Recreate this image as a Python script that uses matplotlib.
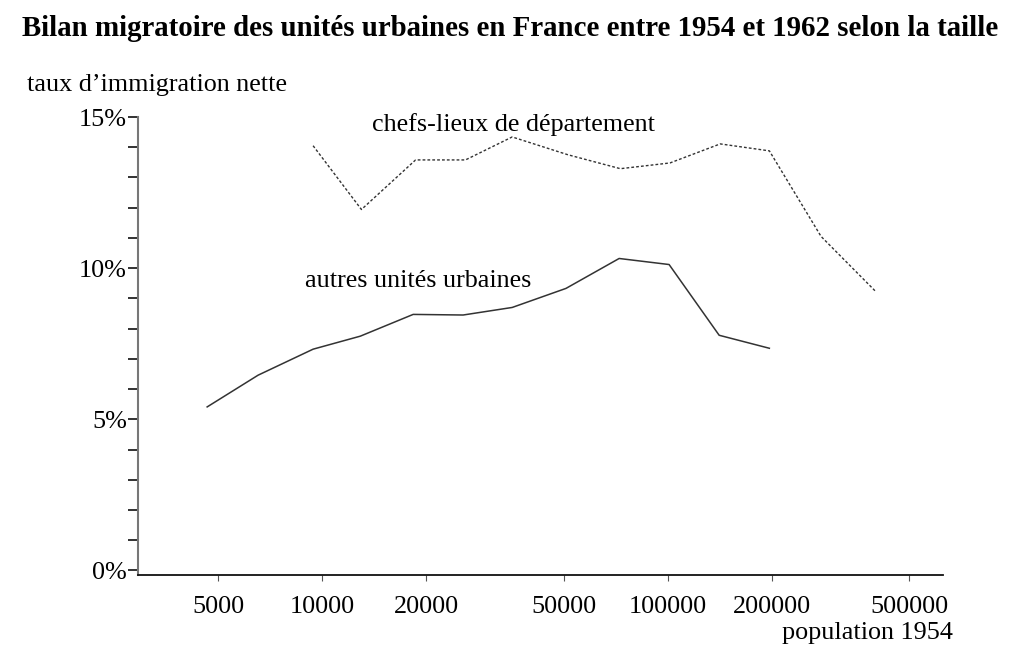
import numpy as np
import matplotlib.pyplot as plt
from matplotlib.ticker import FixedLocator, NullLocator

plt.rcParams['font.family'] = ['Liberation Serif', 'DejaVu Serif']

# autres unités urbaines (ligne continue)
pop_autres = [4650, 6530, 9420, 12900, 18350, 25600, 35500, 50800, 72400, 101000, 141000, 197000]
taux_autres = [5.41, 6.46, 7.32, 7.75, 8.47, 8.45, 8.70, 9.33, 10.32, 10.12, 7.78, 7.35]

# chefs-lieux de département (pointillés)
pop_chefs = [9420, 13000, 18650, 26000, 35500, 51500, 73000, 101600, 142000, 197000, 278000, 400000]
taux_chefs = [14.05, 11.94, 13.58, 13.58, 14.34, 13.75, 13.29, 13.48, 14.11, 13.88, 11.05, 9.23]

xticks = [5000, 10000, 20000, 50000, 100000, 200000, 500000]
yticks = [0, 5, 10, 15]

fig = plt.figure(figsize=(10.24, 6.62), dpi=100)
ax = fig.add_axes([138/1024, 87/662, 805/1024, 458/662])

ax.plot(pop_autres, taux_autres, color='#333333', lw=1.1)
ax.plot(pop_chefs, taux_chefs, color='#333333', lw=1.0, ls=(0, (2, 1.5)))

ax.set_xscale('log')
ax.set_xlim(2933, 626600)
ax.set_ylim(-0.15, 15)

ax.xaxis.set_major_locator(FixedLocator(xticks))
ax.xaxis.set_minor_locator(NullLocator())
ax.set_xticklabels([str(v) for v in xticks])
ax.set_yticks(np.arange(0, 16, 1))
ax.set_yticklabels([f'{v}%' if v in yticks else '' for v in range(16)])

ax.tick_params(axis='x', length=4, width=0.8, color='#555555', pad=11, labelsize=18.8)
ax.tick_params(axis='y', length=7, width=1.3, color='#222222', pad=1, labelsize=18.8)

for s in ['top', 'right']:
    ax.spines[s].set_visible(False)
ax.spines['left'].set_color('#777777')
ax.spines['left'].set_linewidth(1.5)
ax.spines['left'].set_bounds(-0.15, 15)
ax.spines['bottom'].set_color('#111111')
ax.spines['bottom'].set_linewidth(1.3)

ax.text(13960, 14.74, 'chefs-lieux de département', fontsize=18.8, ha='left', va='center')
ax.text(8930, 9.56, 'autres unités urbaines', fontsize=18.8, ha='left', va='center')

fig.text(22/1024, 1 - 28/662, 'Bilan migratoire des unités urbaines en France entre 1954 et 1962 selon la taille',
         fontsize=20.8, fontweight='bold', ha='left', va='center')
fig.text(27/1024, 1 - 85/662, 'taux d’immigration nette', fontsize=18.8, ha='left', va='center')
fig.text(953/1024, 1 - 633/662, 'population 1954', fontsize=18.8, ha='right', va='center')

fig.savefig('out.png', dpi=100, facecolor='white')
